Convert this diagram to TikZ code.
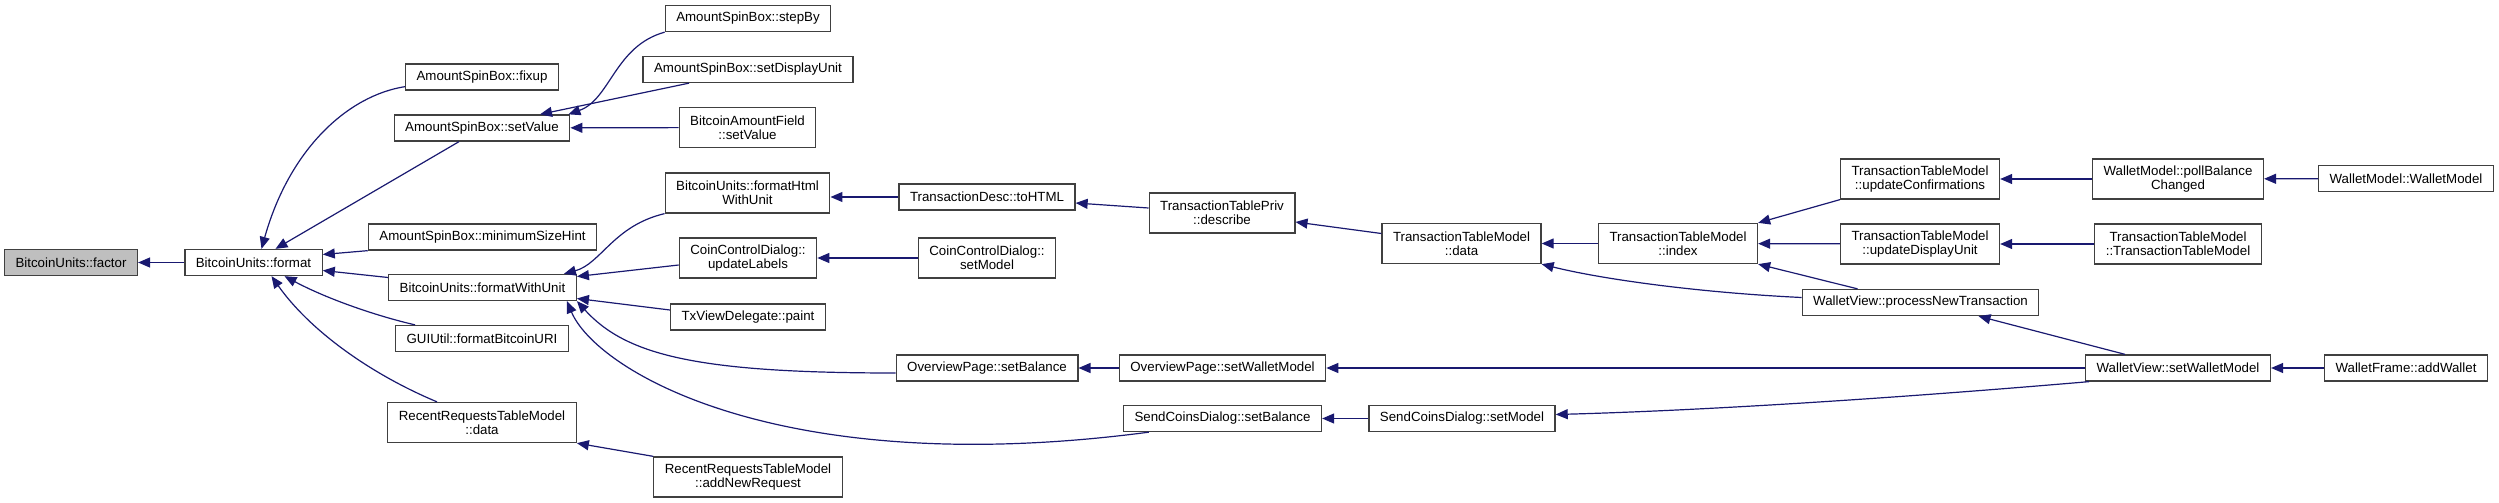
\documentclass[tikz,border=0pt]{standalone}
\usepackage{fontspec}
\setmainfont{Liberation Sans}
\usetikzlibrary{arrows.meta}
\definecolor{edgeblue}{HTML}{191970}
\definecolor{rootgray}{HTML}{BFBFBF}
\definecolor{boxline}{HTML}{404040}

\begin{document}
\begin{tikzpicture}[x=1pt, y=-1pt,
  box/.style={draw=boxline, line width=1.3pt, fill=white, align=center,
              font=\fontsize{13.3}{14}\selectfont, inner xsep=11pt,
              inner ysep=0pt, minimum height=26pt},
  twoline/.style={minimum height=40pt},
  root/.style={fill=rootgray},
  edge/.style={{Triangle[length=12pt,width=10pt]}-, draw=edgeblue,
               line width=1.2pt},
]
\useasboundingbox (0,0) rectangle (2499,503);

% ---- Function and its direct callers ----
\node[box, root] (factor) at (71, 262.5) {BitcoinUnits::factor};
\node[box] (format) at (253.5, 262.5) {BitcoinUnits::format};

\node[box] (fixup)    at (482, 77)    {AmountSpinBox::fixup};
\node[box] (setvalue) at (482, 128)   {AmountSpinBox::setValue};
\node[box] (minsize)  at (482.5, 237) {AmountSpinBox::minimumSizeHint};
\node[box] (fmtunit)  at (482.5, 287.5) {BitcoinUnits::formatWithUnit};
\node[box] (fmturi)   at (482, 338.5) {GUIUtil::formatBitcoinURI};
\node[box, twoline] (rrdata) at (482, 422.5)
  {RecentRequestsTableModel\\::data};

% ---- Third column ----
\node[box] (stepby)  at (748, 18.5) {AmountSpinBox::stepBy};
\node[box] (setunit) at (748, 69.5) {AmountSpinBox::setDisplayUnit};
\node[box, twoline] (bafvalue) at (747.5, 127.5)
  {BitcoinAmountField\\::setValue};
\node[box, twoline] (fmthtml) at (747.5, 193)
  {BitcoinUnits::formatHtml\\WithUnit};
\node[box, twoline] (updlabels) at (748, 258)
  {CoinControlDialog::\\updateLabels};
\node[box] (paint) at (748, 317) {TxViewDelegate::paint};
\node[box, twoline] (addreq) at (748, 477)
  {RecentRequestsTableModel\\::addNewRequest};

% ---- Fourth and fifth columns ----
\node[box] (tohtml) at (987, 197) {TransactionDesc::toHTML};
\node[box, twoline] (ccdmodel) at (987, 258)
  {CoinControlDialog::\\setModel};
\node[box] (opbal) at (987, 368) {OverviewPage::setBalance};

\node[box, twoline] (describe) at (1222, 213)
  {TransactionTablePriv\\::describe};
\node[box] (opmodel) at (1222.5, 368)  {OverviewPage::setWalletModel};
\node[box] (scdbal)  at (1222.5, 418.5) {SendCoinsDialog::setBalance};

% ---- Transaction table model ----
\node[box] (scdmodel) at (1462, 418.5) {SendCoinsDialog::setModel};
\node[box, twoline] (ttmdata) at (1461.5, 243.5)
  {TransactionTableModel\\::data};
\node[box, twoline] (ttmindex) at (1678, 243.5)
  {TransactionTableModel\\::index};
\node[box, twoline] (updconf) at (1920, 179)
  {TransactionTableModel\\::updateConfirmations};
\node[box, twoline] (updunit) at (1920, 244)
  {TransactionTableModel\\::updateDisplayUnit};
\node[box] (procnew) at (1920.5, 302.5) {WalletView::processNewTransaction};

% ---- Wallet side ----
\node[box, twoline] (pollbal) at (2178, 179)
  {WalletModel::pollBalance\\Changed};
\node[box] (wmctor) at (2406, 178.5) {WalletModel::WalletModel};
\node[box, twoline] (ttmctor) at (2178, 244)
  {TransactionTableModel\\::TransactionTableModel};
\node[box] (wvmodel)   at (2178, 368) {WalletView::setWalletModel};
\node[box] (addwallet) at (2406, 368) {WalletFrame::addWallet};

% ---- Calls into format ----
\draw[edge] (factor) -- (format);
\draw[edge] ([xshift=8pt]format.north) .. controls +(28,-100) and +(-57,9)
  .. ([yshift=4pt]fixup.south west);
\draw[edge] ([xshift=22pt]format.north) -- ([xshift=-23pt]setvalue.south);
\draw[edge] ([yshift=8pt]format.east) -- (minsize.south west);
\draw[edge] ([yshift=-8pt]format.east) -- ([yshift=10pt]fmtunit.west);
\draw[edge] ([xshift=31pt]format.south) .. controls +(45,24) and +(-35,-8)
  .. ([xshift=-67pt]fmturi.north);
\draw[edge] ([xshift=18pt]format.south) .. controls +(38,54) and +(-67,-28)
  .. ([xshift=-45pt]rrdata.north);

% ---- Calls into setValue ----
\draw[edge] ([xshift=-2pt]setvalue.north east) .. controls +(42,-15) and +(-50,14)
  .. (stepby.south west);
\draw[edge] ([xshift=58pt]setvalue.north) -- ([xshift=-59pt]setunit.south);
\draw[edge] (setvalue) -- (bafvalue);

% ---- Calls into formatWithUnit ----
\draw[edge] ([xshift=-13pt]fmtunit.north east) .. controls +(37,-10) and +(-51,12)
  .. (fmthtml.south west);
\draw[edge] ([yshift=11pt]fmtunit.east) -- ([yshift=-7pt]updlabels.west);
\draw[edge] ([yshift=-11pt]fmtunit.east) -- ([yshift=7pt]paint.west);
\draw[edge] (fmtunit.south east) .. controls +(49,54) and +(-199,0)
  .. ([yshift=-5pt]opbal.west);
\draw[edge] ([xshift=-10pt]fmtunit.south east) .. controls +(29,69) and +(-371,49)
  .. ([xshift=26pt]scdbal.south west);
\draw[edge] (rrdata.south east) -- (addreq.north west);

% ---- Chain to the table model ----
\draw[edge] (fmthtml.east |- tohtml.west) -- (tohtml.west);
\draw[edge] ([yshift=-6pt]tohtml.east) -- ([yshift=5pt]describe.west);
\draw[edge] ([yshift=-9pt]describe.east) -- ([yshift=10pt]ttmdata.west);
\draw[edge] (ttmdata) -- (ttmindex);
\draw[edge] (ttmindex.north east) -- (updconf.south west);
\draw[edge] (ttmindex) -- (updunit);
\draw[edge] (ttmdata.south east) .. controls +(60,15) and +(-104,-5)
  .. ([yshift=5pt]procnew.west);
\draw[edge] (ttmindex.south east) -- ([xshift=-63pt]procnew.north);
\draw[edge] (updconf) -- (pollbal);
\draw[edge] (pollbal) -- (wmctor);
\draw[edge] (updunit) -- (ttmctor);
\draw[edge] (updlabels) -- (ccdmodel);

% ---- Wallet view ----
\draw[edge] ([xshift=58pt]procnew.south) -- ([xshift=-53pt]wvmodel.north);
\draw[edge] (opbal) -- (opmodel);
\draw[edge] (opmodel) -- (wvmodel);
\draw[edge] (scdbal) -- (scdmodel);
\draw[edge] ([yshift=4pt]scdmodel.east) .. controls +(147,-4) and +(-199,17)
  .. ([xshift=4pt]wvmodel.south west);
\draw[edge] (wvmodel) -- (addwallet);

\end{tikzpicture}
\end{document}
